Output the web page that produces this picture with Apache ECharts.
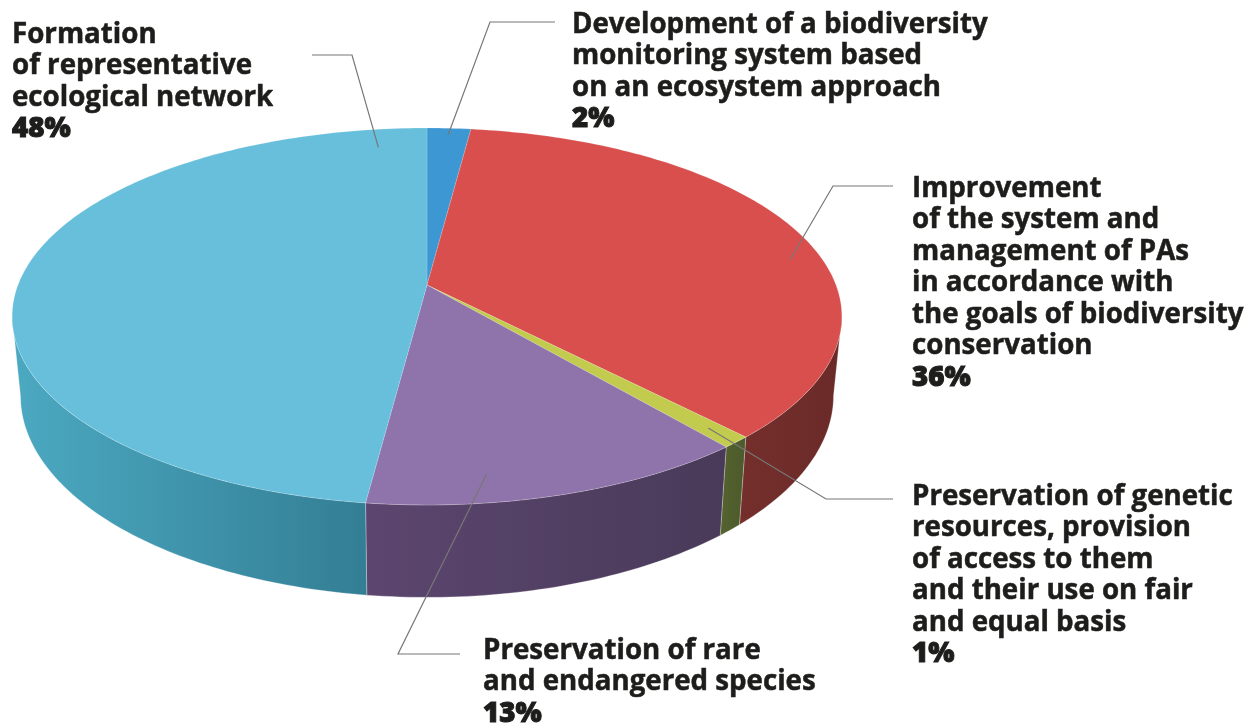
<!DOCTYPE html>
<html><head><meta charset="utf-8">
<script src="https://cdn.jsdelivr.net/npm/echarts@6/dist/echarts.min.js"></script>
<style>html,body{margin:0;padding:0;background:#fff}#c{width:1260px;height:724px}</style>
</head><body><div id="c"></div>
<script>
// ---- data ----
const categories = [
  'Development of a biodiversity monitoring system based on an ecosystem approach',
  'Improvement of the system and management of PAs in accordance with the goals of biodiversity conservation',
  'Preservation of genetic resources, provision of access to them and their use on fair and equal basis',
  'Preservation of rare and endangered species',
  'Formation of representative ecological network'
];
const labelLines = [
  ['Development of a biodiversity', 'monitoring system based', 'on an ecosystem approach'],
  ['Improvement', 'of the system and', 'management of PAs', 'in accordance with', 'the goals of biodiversity', 'conservation'],
  ['Preservation of genetic', 'resources, provision', 'of access to them', 'and their use on fair', 'and equal basis'],
  ['Preservation of rare', 'and endangered species'],
  ['Formation', 'of representative', 'ecological network']
];
const values = [2, 36, 1, 13, 48];
const percentLabels = ['2%', '36%', '1%', '13%', '48%'];

// ---- styles / layout ----
const topColors = ['#3d97d3', '#d84f4e', '#c3cb4f', '#8f73ab', '#67bfdb'];
const sideColors = [['#2a6a95', '#255c82'], ['#742f2c', '#6a2a28'], ['#55632f', '#4c5a2c'], ['#5c466f', '#493a59'], ['#4ba9c1', '#337e94']];
const anchorPos = [0.5, 0.57, 0.5, 0.675, 0.948];   // position inside slice (fraction of its angle)
const anchorR = [0.95, 0.92, 0.92, 0.89, 0.87];
const elbows = [[490, 22], [833, 186], [826, 499], [398, 654], [352, 55]];
const lineEnds = [555, 893, 893, 460, 312];
const labelPos = [[572, 9], [912, 173], [912, 481], [483, 635], [12, 19]];

const G = {cx: 427, cy: 285, A: 409, B: 183.2, k: 0.167, depth: 77, shrink: 0.98};
const TAU = Math.PI * 2;
const total = values.reduce((a, b) => a + b, 0);
const starts = [];
values.reduce((acc, v, i) => { starts[i] = acc; return acc + v; }, 0);

function proj(theta, r, bottom) {
  const s = Math.sin(theta) * r, c = Math.cos(theta) * r;
  const w = 1 + G.k * c;
  let x = G.A * s / w, y = -G.B * c / w;
  if (bottom) { x *= G.shrink; y += G.depth / w; }
  return [G.cx + x, G.cy + y];
}
function arc(a0, a1, r, bottom) {
  const n = Math.max(2, Math.ceil(Math.abs(a1 - a0) / (Math.PI / 180)));
  const pts = [];
  for (let j = 0; j <= n; j++) pts.push(proj(a0 + (a1 - a0) * j / n, r, bottom));
  return pts;
}
const visLo = Math.acos(-G.k), visHi = TAU - Math.acos(-G.k);
function angles(i, v) {
  const a0 = starts[i] / total * TAU;
  return [a0, a0 + v / total * TAU];
}

const FONT = '"Open Sans", Roboto, sans-serif';
const chart = echarts.init(document.getElementById('c'), null, {renderer: 'canvas'});
chart.setOption({
  animation: false,
  series: [
    { // side walls
      type: 'custom', coordinateSystem: 'none', z: 1, silent: true,
      data: values,
      renderItem(params, api) {
        const i = params.dataIndex;
        const [a0, a1] = angles(i, api.value(0));
        const lo = Math.max(a0, visLo), hi = Math.min(a1, visHi);
        if (hi <= lo) return {type: 'group', children: []};
        const pts = arc(lo, hi, 1, false).concat(arc(hi, lo, 1, true));
        return {
          type: 'polygon', shape: {points: pts},
          style: {
            fill: new echarts.graphic.LinearGradient(0, 0, 1, 0, [
              {offset: 0, color: sideColors[i][0]}, {offset: 1, color: sideColors[i][1]}]),
            stroke: 'rgba(255,255,255,0.35)', lineWidth: 0.8
          }
        };
      }
    },
    { // top faces
      type: 'custom', coordinateSystem: 'none', z: 2, silent: true,
      data: values,
      renderItem(params, api) {
        const i = params.dataIndex;
        const [a0, a1] = angles(i, api.value(0));
        const pts = [[G.cx, G.cy]].concat(arc(a0, a1, 1, false));
        return {
          type: 'polygon', shape: {points: pts},
          style: {fill: topColors[i], stroke: 'rgba(255,255,255,0.25)', lineWidth: 0.6}
        };
      }
    },
    { // leaders + labels
      type: 'custom', coordinateSystem: 'none', z: 3, silent: true,
      data: values,
      renderItem(params, api) {
        const i = params.dataIndex;
        const [a0, a1] = angles(i, api.value(0));
        const anchor = proj(a0 + (a1 - a0) * anchorPos[i], anchorR[i], false);
        const el = elbows[i];
        const txt = labelLines[i].map(l => '{n|' + l + '}').join('\n') + '\n{p|' + percentLabels[i] + '}';
        return {
          type: 'group',
          children: [
            {type: 'polyline', shape: {points: [anchor, el, [lineEnds[i], el[1]]]},
             style: {stroke: '#777', lineWidth: 1.2, fill: null}},
            {type: 'text', x: labelPos[i][0], y: labelPos[i][1],
             style: {
               text: txt, align: 'left', verticalAlign: 'top',
               rich: {
                 n: {fontFamily: FONT, fontSize: 27.7, fontWeight: 'bold', fill: '#1d1d1b', lineHeight: 31.5,
                     stroke: '#1d1d1b', lineWidth: 0.5},
                 p: {fontFamily: FONT, fontSize: 27.7, fontWeight: 800, fill: '#1d1d1b', lineHeight: 31.5,
                     stroke: '#1d1d1b', lineWidth: 1}
               }
             }}
          ]
        };
      }
    }
  ]
});
</script></body></html>
